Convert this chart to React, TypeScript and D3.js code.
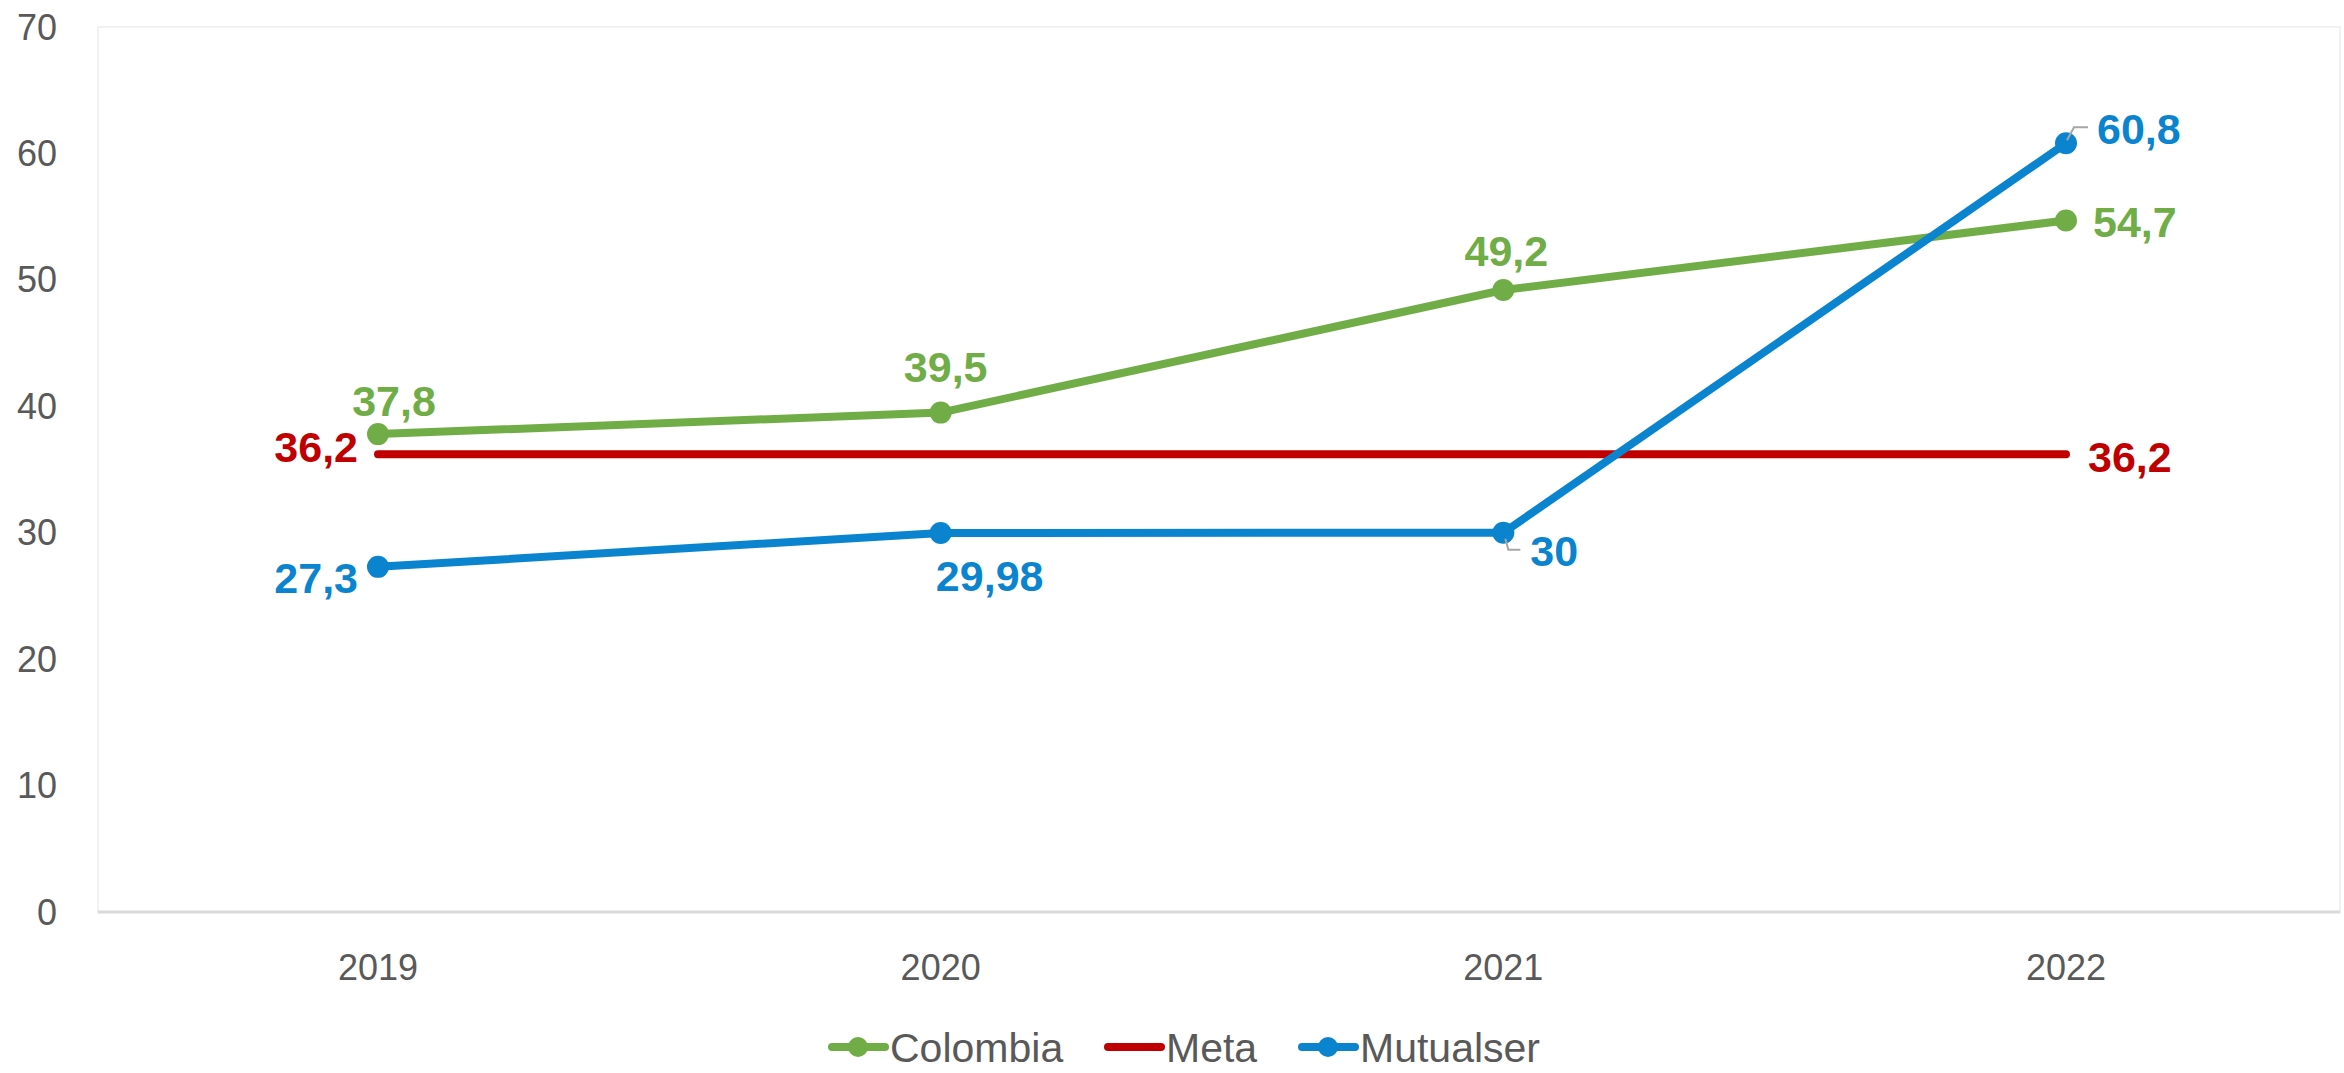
import React from "react";
import * as d3 from "d3";

const years = ["2019", "2020", "2021", "2022"];
const colombia = [37.8, 39.5, 49.2, 54.7];
const meta = [36.2, 36.2, 36.2, 36.2];
const mutualser = [27.3, 29.98, 30, 60.8];
const colombiaLabels = ["37,8", "39,5", "49,2", "54,7"];
const metaLabels = ["36,2", "", "", "36,2"];
const mutualserLabels = ["27,3", "29,98", "30", "60,8"];
const yTicks = [0, 10, 20, 30, 40, 50, 60, 70];
const legendItems = ["Colombia", "Meta", "Mutualser"];

const GREEN = "#70AD47";
const RED = "#C00000";
const BLUE = "#0B84CF";
const AXIS_TEXT = "#595959";
const FONT = "'Liberation Sans', Arial, sans-serif";

const W = 2344;
const H = 1073;

export default function App() {
  const x = d3.scalePoint<string>().domain(years).range([378, 2066]);
  const y = d3.scaleLinear().domain([0, 70]).range([912, 27]);
  const line = d3
    .line<number>()
    .x((_, i) => x(years[i]) as number)
    .y((d) => y(d));

  // label offsets (dx, dy to baseline, anchor)
  const colOff: [number, number, string][] = [
    [16, -18, "middle"],
    [5, -31, "middle"],
    [3, -24, "middle"],
    [27, 17, "start"],
  ];
  const metaOff: [number, number, string][] = [
    [-20, 8, "end"],
    [0, 0, "middle"],
    [0, 0, "middle"],
    [22, 18, "start"],
  ];
  const mutOff: [number, number, string][] = [
    [-20, 26, "end"],
    [49, 58, "middle"],
    [27, 33, "start"],
    [31, 1, "start"],
  ];

  const series = [
    { vals: colombia, color: GREEN, markers: true, labels: colombiaLabels, off: colOff },
    { vals: meta, color: RED, markers: false, labels: metaLabels, off: metaOff },
    { vals: mutualser, color: BLUE, markers: true, labels: mutualserLabels, off: mutOff },
  ];

  const legendX = [830, 1106, 1300];
  const legendColors = [GREEN, RED, BLUE];
  const legendMarkers = [true, false, true];

  const p2021 = { x: x("2021") as number, y: y(mutualser[2]) };
  const p2022 = { x: x("2022") as number, y: y(mutualser[3]) };

  return (
    <svg
      width={W}
      height={H}
      style={{ position: "absolute", left: 0, top: 0, background: "#fff" }}
      fontFamily={FONT}
    >
      <rect x={0} y={0} width={W} height={H} fill="#fff" />
      <rect x={98} y={27} width={2242} height={885} fill="none" stroke="#F2F2F2" strokeWidth={2} />
      <line x1={98} x2={2340} y1={y(0)} y2={y(0)} stroke="#D9D9D9" strokeWidth={3} />

      {yTicks.map((t) => (
        <text
          key={t}
          x={57}
          y={y(t)}
          textAnchor="end"
          dominantBaseline="central"
          fontSize={36}
          fill={AXIS_TEXT}
        >
          {t}
        </text>
      ))}
      {years.map((yr) => (
        <text key={yr} x={x(yr)} y={980} textAnchor="middle" fontSize={36} fill={AXIS_TEXT}>
          {yr}
        </text>
      ))}

      {series.map((s, si) => (
        <g key={si}>
          <path
            d={line(s.vals) as string}
            fill="none"
            stroke={s.color}
            strokeWidth={8}
            strokeLinecap="round"
            strokeLinejoin="round"
          />
          {s.markers &&
            s.vals.map((v, i) => (
              <circle key={i} cx={x(years[i])} cy={y(v)} r={11} fill={s.color} />
            ))}
        </g>
      ))}

      {/* leader lines */}
      <path
        d={`M${p2021.x + 2},${p2021.y + 6} L${p2021.x + 5},${p2021.y + 17} L${p2021.x + 17},${p2021.y + 17}`}
        fill="none"
        stroke="#A6A6A6"
        strokeWidth={2}
      />
      <path
        d={`M${p2022.x + 1},${p2022.y - 3} L${p2022.x + 8},${p2022.y - 16} L${p2022.x + 22},${p2022.y - 16}`}
        fill="none"
        stroke="#A6A6A6"
        strokeWidth={2}
      />

      {series.map((s, si) =>
        s.vals.map((v, i) =>
          s.labels[i] ? (
            <text
              key={`${si}-${i}`}
              x={(x(years[i]) as number) + s.off[i][0]}
              y={y(v) + s.off[i][1]}
              textAnchor={s.off[i][2] as any}
              fontSize={43}
              fontWeight="bold"
              fill={s.color}
            >
              {s.labels[i]}
            </text>
          ) : null
        )
      )}

      {legendItems.map((name, i) => (
        <g key={name} transform={`translate(${legendX[i]},1047)`}>
          <line x1={2} x2={55} y1={0} y2={0} stroke={legendColors[i]} strokeWidth={8} strokeLinecap="round" />
          {legendMarkers[i] && <circle cx={28} cy={0} r={10} fill={legendColors[i]} />}
          <text x={60} y={15} fontSize={41} fill={AXIS_TEXT}>
            {name}
          </text>
        </g>
      ))}
    </svg>
  );
}
